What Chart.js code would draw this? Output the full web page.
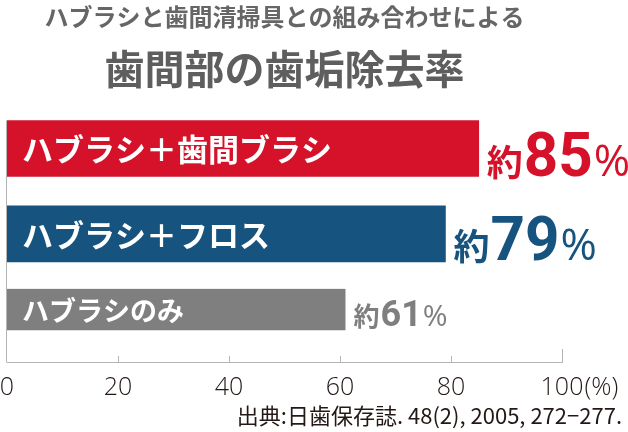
<!DOCTYPE html>
<html><head><meta charset="utf-8">
<script src="https://cdn.jsdelivr.net/npm/chart.js@4.4.1/dist/chart.umd.min.js"></script>
<style>html,body{margin:0;padding:0;background:#fff;overflow:hidden}#wrap{width:628px;height:432px}</style>
</head><body><div id="wrap"><canvas id="c" width="628" height="432"></canvas></div>
<script>
// ---- data ----
const titleLine1 = 'ハブラシと歯間清掃具との組み合わせによる';
const titleLine2 = '歯間部の歯垢除去率';
const categories = ['ハブラシ＋歯間ブラシ', 'ハブラシ＋フロス', 'ハブラシのみ'];
const removalRates = [85, 79, 61];
const valuePrefix = '約';
const valueSuffix = '%';
const xTickValues = [0, 20, 40, 60, 80, 100];
const xUnit = '(%)';
const sourceNote = '出典:日歯保存誌. 48(2), 2005, 272−277.';

// ---- styles ----
const barColors = ['#d51229', '#16537e', '#7f7f7f'];
const thinBar = [false, false, true];
const JP = '"Noto Sans CJK JP", "Noto Sans", sans-serif';
const LABEL_STYLES = [
  { cat: 31, pre: 36, num: 62, sx: 0.97, pct: 44, lift: 1 },
  { cat: 31, pre: 36, num: 62, sx: 0.97, pct: 44, lift: 2 },
  { cat: 27, pre: 26, num: 36, sx: 1.0, pct: 30, lift: 4 }
];
const AXIS_GRAY = '#b4b4b4';
const INK = '#231815';
const TICK_FONT = { family: '"Open Sans", "Noto Sans CJK JP", sans-serif', size: 25, weight: '300' };

const decor = {
  id: 'decor',
  afterDatasetsDraw(chart) {
    const { ctx, chartArea } = chart;
    const xs = chart.scales.x;
    const bars = [];
    chart.data.datasets.forEach((ds, di) => {
      const meta = chart.getDatasetMeta(di);
      meta.data.forEach((el, i) => {
        if (ds.data[i] == null) return;
        const bw = (ds.borderWidth && ds.borderWidth.bottom) ? ds.borderWidth.bottom : 0;
        const top = el.y - el.height / 2;
        const bottom = el.y + el.height / 2 - bw;
        bars[i] = { end: el.x, top, bottom, mid: (top + bottom) / 2 };
      });
    });
    ctx.save();
    // vertical axis line
    ctx.strokeStyle = AXIS_GRAY; ctx.lineWidth = 1;
    const lx = Math.round(chartArea.left) - 0.5;
    ctx.beginPath(); ctx.moveTo(lx, bars[0].top); ctx.lineTo(lx, chartArea.bottom + 0.5); ctx.stroke();
    // tick marks (upward)
    xTickValues.forEach(v => {
      if (v === xs.min) return;
      const px = Math.round(xs.getPixelForValue(v)) + 0.5;
      const len = v === xs.max ? 13 : 6;
      ctx.beginPath(); ctx.moveTo(px, chartArea.bottom); ctx.lineTo(px, chartArea.bottom - len); ctx.stroke();
    });
    // labels
    bars.forEach((b, i) => {
      const s = LABEL_STYLES[i];
      ctx.fillStyle = '#ffffff';
      ctx.textAlign = 'left'; ctx.textBaseline = 'middle';
      ctx.font = `bold ${s.cat}px ${JP}`;
      ctx.fillText(categories[i], chartArea.left + 15, b.mid + 1);
      // value label
      const base = b.bottom - s.lift;
      let x = b.end + 8;
      ctx.fillStyle = barColors[i];
      ctx.textBaseline = 'alphabetic';
      ctx.font = `bold ${s.pre}px ${JP}`;
      ctx.fillText(valuePrefix, x, base);
      x += ctx.measureText(valuePrefix).width + 1;
      const num = String(removalRates[i]);
      ctx.save();
      ctx.translate(x, base); ctx.scale(s.sx, 1);
      ctx.font = `bold ${s.num}px Roboto, ${JP}`;
      ctx.fillText(num, 0, 0);
      const w = ctx.measureText(num).width * s.sx;
      ctx.restore();
      x += w + 1;
      ctx.font = `${s.pct}px "Open Sans", ${JP}`;
      ctx.fillText(valueSuffix, x, base);
    });
    // unit after last tick label
    let items = null;
    try { items = xs.getLabelItems(); } catch (e) { items = null; }
    ctx.font = `${TICK_FONT.weight} ${TICK_FONT.size}px ${TICK_FONT.family}`;
    ctx.fillStyle = INK;
    const lastPx = xs.getPixelForValue(xTickValues[xTickValues.length - 1]);
    const lastTxt = String(xTickValues[xTickValues.length - 1]);
    let uy, ub = 'middle';
    if (items && items.length) {
      const it = items[items.length - 1];
      uy = it.options.translation[1] + (it.textOffset || 0);
      ub = it.options.textBaseline || 'middle';
    } else {
      uy = chartArea.bottom + 21;
    }
    ctx.textAlign = 'left'; ctx.textBaseline = ub;
    ctx.fillText(xUnit, lastPx + ctx.measureText(lastTxt).width / 2 + 1, uy);
    // source note
    ctx.font = `22px ${JP}`;
    ctx.textAlign = 'right'; ctx.textBaseline = 'middle';
    ctx.fillText(sourceNote, 622, 416);
    ctx.restore();
  }
};

new Chart(document.getElementById('c'), {
  type: 'bar',
  data: {
    labels: categories,
    datasets: [
      {
        data: removalRates.map((v, i) => thinBar[i] ? null : v),
        backgroundColor: barColors,
        barThickness: 56
      },
      {
        data: removalRates.map((v, i) => thinBar[i] ? v : null),
        backgroundColor: barColors,
        barThickness: 61,
        borderWidth: { bottom: 20 },
        borderColor: '#ffffff',
        borderSkipped: 'start'
      }
    ]
  },
  options: {
    responsive: false,
    animation: false,
    indexAxis: 'y',
    datasets: { bar: { grouped: false } },
    layout: { padding: { left: 7, right: 66, top: 0, bottom: 18 } },
    plugins: {
      legend: { display: false },
      tooltip: { enabled: false },
      title: {
        display: true, text: titleLine1, color: '#666666',
        font: { family: JP, size: 24, weight: 'bold', lineHeight: 1.2 },
        padding: { top: 2, bottom: 6 }
      },
      subtitle: {
        display: true, text: titleLine2, color: '#5e5e5e',
        font: { family: JP, size: 40, weight: 'bold', lineHeight: 1.2 },
        padding: { top: 8, bottom: 13 }
      }
    },
    scales: {
      x: {
        type: 'linear', min: 0, max: 100,
        afterBuildTicks: s => { s.ticks = xTickValues.map(v => ({ value: v })); },
        afterFit: s => { s.paddingLeft = 0; s.paddingRight = 0; },
        grid: { display: false, drawTicks: false },
        border: { display: true, color: AXIS_GRAY, width: 1 },
        ticks: { padding: 11, maxRotation: 0, autoSkip: false, color: INK, font: TICK_FONT }
      },
      y: { type: 'category', display: false, offset: true }
    }
  },
  plugins: [decor]
});
</script>
</body></html>
